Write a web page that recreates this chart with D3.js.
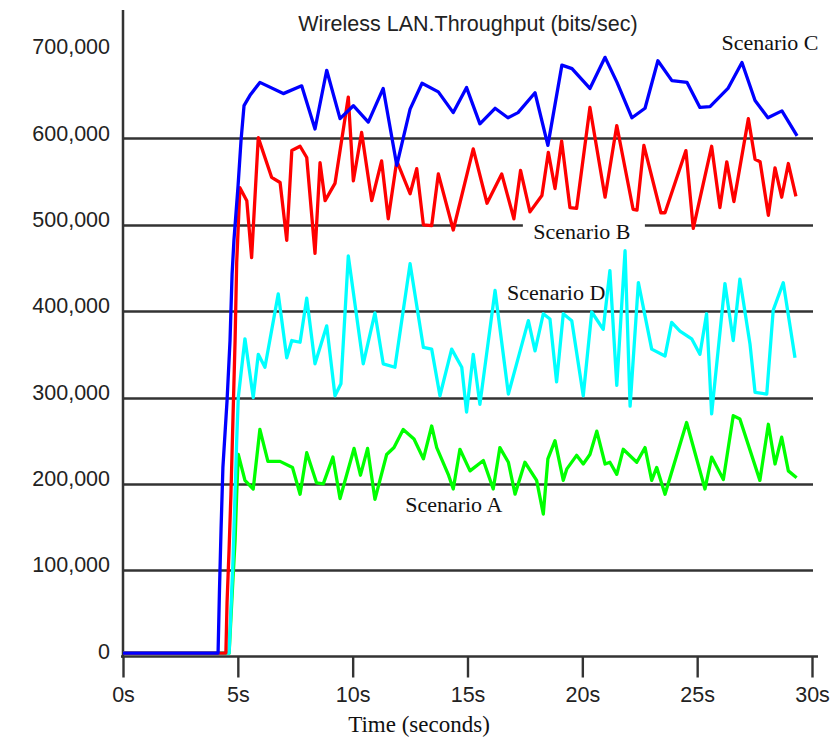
<!DOCTYPE html>
<html>
<head>
<meta charset="utf-8">
<script src="https://cdn.jsdelivr.net/npm/d3@7"></script>
<style>
  html, body { margin: 0; padding: 0; background: #ffffff; }
  svg { display: block; }
</style>
</head>
<body>
<div id="chart"></div>
<script>
// ---------- data ----------
const chartTitle = "Wireless LAN.Throughput (bits/sec)";
const xAxisTitle = "Time (seconds)";
const xTicks = [0, 5, 10, 15, 20, 25, 30];
const xTickLabels = ["0s", "5s", "10s", "15s", "20s", "25s", "30s"];
const yTicks = [0, 100000, 200000, 300000, 400000, 500000, 600000, 700000];
const gridValues = [100000, 200000, 300000, 400000, 500000, 600000];

const seriesNames = ["Scenario A", "Scenario D", "Scenario B", "Scenario C"];
const seriesColors = ["#00ff00", "#00ffff", "#ff0000", "#0000ff"];

// Scenario C (blue)
const timeC = [0, 4.14, 4.20, 4.27, 4.35, 4.53, 4.66, 4.75, 4.83, 5.01, 5.14, 5.27, 5.53, 5.96, 6.98, 7.78, 8.36, 8.87, 9.45, 10.03, 10.68, 11.33, 11.92, 12.50, 13.02, 13.73, 14.38, 14.96, 15.54, 16.20, 16.76, 17.20, 17.94, 18.50, 19.11, 19.55, 20.33, 20.99, 21.51, 22.16, 22.73, 23.29, 23.90, 24.56, 25.12, 25.56, 26.34, 26.95, 27.52, 28.08, 28.69, 29.35];
const valuesC = [4000, 4000, 76000, 148000, 219000, 296000, 366000, 443000, 482000, 545000, 598000, 638000, 650000, 665000, 652000, 661000, 611000, 679000, 623000, 638000, 619000, 658000, 569000, 634000, 664000, 654000, 630000, 659000, 617000, 635000, 624000, 630000, 653000, 592000, 685000, 681000, 658000, 694000, 665000, 624000, 635000, 690000, 667000, 665000, 636000, 637000, 658000, 688000, 644000, 624000, 632000, 603000];

// Scenario B (red)
const timeB = [0, 4.48, 4.53, 4.62, 4.70, 4.79, 4.88, 4.95, 5.09, 5.39, 5.60, 5.89, 6.47, 6.84, 7.13, 7.35, 7.71, 8.00, 8.36, 8.58, 8.80, 9.23, 9.81, 10.03, 10.39, 10.83, 11.26, 11.55, 11.92, 12.50, 12.79, 13.08, 13.44, 13.73, 14.38, 15.25, 15.85, 16.49, 17.02, 17.31, 17.72, 18.24, 18.52, 18.81, 19.10, 19.46, 19.75, 20.33, 20.99, 21.50, 22.21, 22.38, 22.68, 23.42, 23.60, 24.51, 24.83, 25.63, 25.99, 26.29, 26.60, 27.23, 27.52, 27.74, 28.10, 28.39, 28.68, 28.97, 29.30];
const valuesB = [4000, 4000, 62000, 125000, 188000, 277000, 366000, 456000, 543000, 528000, 462000, 601000, 555000, 549000, 482000, 586000, 591000, 578000, 467000, 572000, 528000, 548000, 648000, 551000, 607000, 528000, 574000, 507000, 574000, 536000, 565000, 500000, 499000, 559000, 494000, 588000, 525000, 559000, 507000, 563000, 515000, 534000, 584000, 542000, 597000, 520000, 519000, 636000, 532000, 615000, 518000, 517000, 592000, 514000, 514000, 586000, 496000, 591000, 520000, 573000, 527000, 623000, 576000, 573000, 511000, 566000, 532000, 571000, 533000];

// Scenario D (cyan)
const timeD = [0, 4.62, 4.79, 4.95, 5.02, 5.31, 5.67, 5.89, 6.18, 6.76, 7.13, 7.35, 7.71, 8.00, 8.36, 8.87, 9.23, 9.49, 9.81, 10.46, 10.97, 11.33, 11.84, 12.50, 13.08, 13.44, 13.80, 14.31, 14.75, 14.96, 15.25, 15.54, 16.20, 16.78, 17.65, 17.94, 18.30, 18.59, 18.88, 19.17, 19.54, 20.04, 20.41, 20.91, 21.20, 21.50, 21.86, 22.08, 22.44, 23.02, 23.60, 23.89, 24.25, 24.76, 25.12, 25.41, 25.63, 26.21, 26.57, 26.86, 27.30, 27.52, 28.03, 28.31, 28.75, 29.26];
const valuesD = [4000, 4000, 111000, 250000, 300000, 368000, 300000, 350000, 335000, 420000, 346000, 366000, 364000, 415000, 339000, 383000, 302000, 316000, 464000, 339000, 398000, 339000, 335000, 455000, 358000, 356000, 302000, 356000, 335000, 283000, 350000, 292000, 424000, 304000, 389000, 354000, 397000, 391000, 318000, 397000, 389000, 302000, 399000, 379000, 447000, 314000, 470000, 290000, 433000, 356000, 348000, 387000, 377000, 368000, 350000, 397000, 281000, 432000, 366000, 437000, 362000, 306000, 304000, 401000, 433000, 346000];

// Scenario A (green)
const timeA = [0, 4.62, 4.70, 4.79, 4.88, 4.95, 5.02, 5.31, 5.67, 5.96, 6.31, 6.84, 7.38, 7.71, 8.00, 8.43, 8.72, 9.14, 9.45, 10.06, 10.34, 10.65, 10.97, 11.48, 11.80, 12.20, 12.67, 13.08, 13.44, 13.66, 14.16, 14.38, 14.67, 15.11, 15.69, 16.12, 16.41, 16.78, 17.07, 17.50, 18.01, 18.30, 18.50, 18.81, 19.17, 19.32, 19.75, 20.04, 20.33, 20.63, 20.99, 21.20, 21.50, 21.78, 22.37, 22.73, 23.02, 23.24, 23.60, 24.54, 25.34, 25.63, 26.14, 26.57, 26.86, 27.73, 28.10, 28.39, 28.68, 28.97, 29.33];
const valuesA = [4000, 4000, 45000, 91000, 134000, 188000, 234000, 204000, 194000, 263000, 226000, 226000, 219000, 188000, 236000, 201000, 200000, 231000, 183000, 241000, 210000, 241000, 182000, 234000, 242000, 263000, 252000, 229000, 267000, 242000, 211000, 194000, 240000, 215000, 227000, 194000, 242000, 225000, 188000, 225000, 204000, 165000, 229000, 250000, 204000, 217000, 233000, 223000, 234000, 261000, 223000, 225000, 211000, 240000, 225000, 242000, 204000, 219000, 188000, 271000, 194000, 231000, 205000, 279000, 275000, 204000, 269000, 223000, 254000, 215000, 207000];

const seriesTimes = [timeA, timeD, timeB, timeC];
const seriesValues = [valuesA, valuesD, valuesB, valuesC];

// label anchor values (time, value) for the in-plot scenario labels
const labelTexts = ["Scenario C", "Scenario B", "Scenario D", "Scenario A"];
const labelTimes = [28.17, 19.98, 18.86, 14.40];
const labelValues = [702000, 484000, 413000, 167000];
const labelBoxed = [false, true, false, false];

// ---------- drawing ----------
const W = 832, H = 740;
const svg = d3.select("#chart").append("svg")
  .attr("width", W).attr("height", H)
  .style("background", "#ffffff");

const x = d3.scaleLinear().domain([0, 30]).range([123, 812]);
const y = d3.scaleLinear().domain([0, 750000]).range([656.5, 9]);

const axisColor = "#333333";
const sans = "'Liberation Sans', Arial, sans-serif";
const serif = "'Liberation Serif', 'Times New Roman', serif";

// gridlines
svg.append("g").selectAll("line").data(gridValues).join("line")
  .attr("x1", x(0)).attr("x2", 813)
  .attr("y1", d => Math.round(y(d)) + 0.5).attr("y2", d => Math.round(y(d)) + 0.5)
  .attr("stroke", axisColor).attr("stroke-width", 2.5);

// label boxes (white background that breaks gridlines)
labelTexts.forEach((t, i) => {
  if (!labelBoxed[i]) return;
  const cx = x(labelTimes[i]), by = y(labelValues[i]);
  svg.append("rect")
    .attr("x", cx - 59).attr("y", by - 18)
    .attr("width", 122).attr("height", 24)
    .attr("fill", "#ffffff");
});

// x axis
const xAxis = d3.axisBottom(x).tickValues(xTicks)
  .tickFormat((d, i) => xTickLabels[i]).tickSize(21).tickPadding(6);
const gx = svg.append("g").attr("transform", "translate(0,656.5)").call(xAxis);
gx.select(".domain").remove();
gx.selectAll(".tick line").attr("stroke", axisColor).attr("stroke-width", 2.4);
gx.selectAll(".tick text")
  .attr("font-family", sans).attr("font-size", 21.5).attr("fill", "#222")
  .attr("y", 45).attr("dy", 0);

// y axis
const yAxis = d3.axisLeft(y).tickValues(yTicks)
  .tickFormat(d3.format(",")).tickSize(0).tickPadding(13);
const gy = svg.append("g").attr("transform", "translate(123,0)").call(yAxis);
gy.select(".domain").remove();
gy.selectAll(".tick text")
  .attr("font-family", sans).attr("font-size", 21.5).attr("fill", "#222")
  .attr("dy", 1.5);

// axis lines
svg.append("line").attr("x1", 123).attr("x2", 123).attr("y1", 10).attr("y2", 658)
  .attr("stroke", axisColor).attr("stroke-width", 2.5);
svg.append("line").attr("x1", 121).attr("x2", 818).attr("y1", 656.5).attr("y2", 656.5)
  .attr("stroke", axisColor).attr("stroke-width", 2.5);

// series lines
const line = d3.line().x(d => x(d[0])).y(d => y(d[1]));
seriesNames.forEach((name, i) => {
  const pts = seriesTimes[i].map((t, j) => [t, seriesValues[i][j]]);
  svg.append("path").datum(pts)
    .attr("d", line)
    .attr("fill", "none")
    .attr("stroke", seriesColors[i])
    .attr("stroke-width", 3.3)
    .attr("stroke-linejoin", "round");
});

// scenario labels
labelTexts.forEach((t, i) => {
  svg.append("text")
    .attr("x", x(labelTimes[i])).attr("y", y(labelValues[i]))
    .attr("text-anchor", "middle")
    .attr("font-family", serif).attr("font-size", 22)
    .attr("fill", "#111")
    .text(t);
});

// title
svg.append("text").attr("x", 468).attr("y", 31)
  .attr("text-anchor", "middle")
  .attr("font-family", sans).attr("font-size", 21.5).attr("fill", "#222")
  .text(chartTitle);

// x axis title
svg.append("text").attr("x", 419).attr("y", 732)
  .attr("text-anchor", "middle")
  .attr("font-family", serif).attr("font-size", 23).attr("fill", "#111")
  .text(xAxisTitle);
</script>
</body>
</html>
